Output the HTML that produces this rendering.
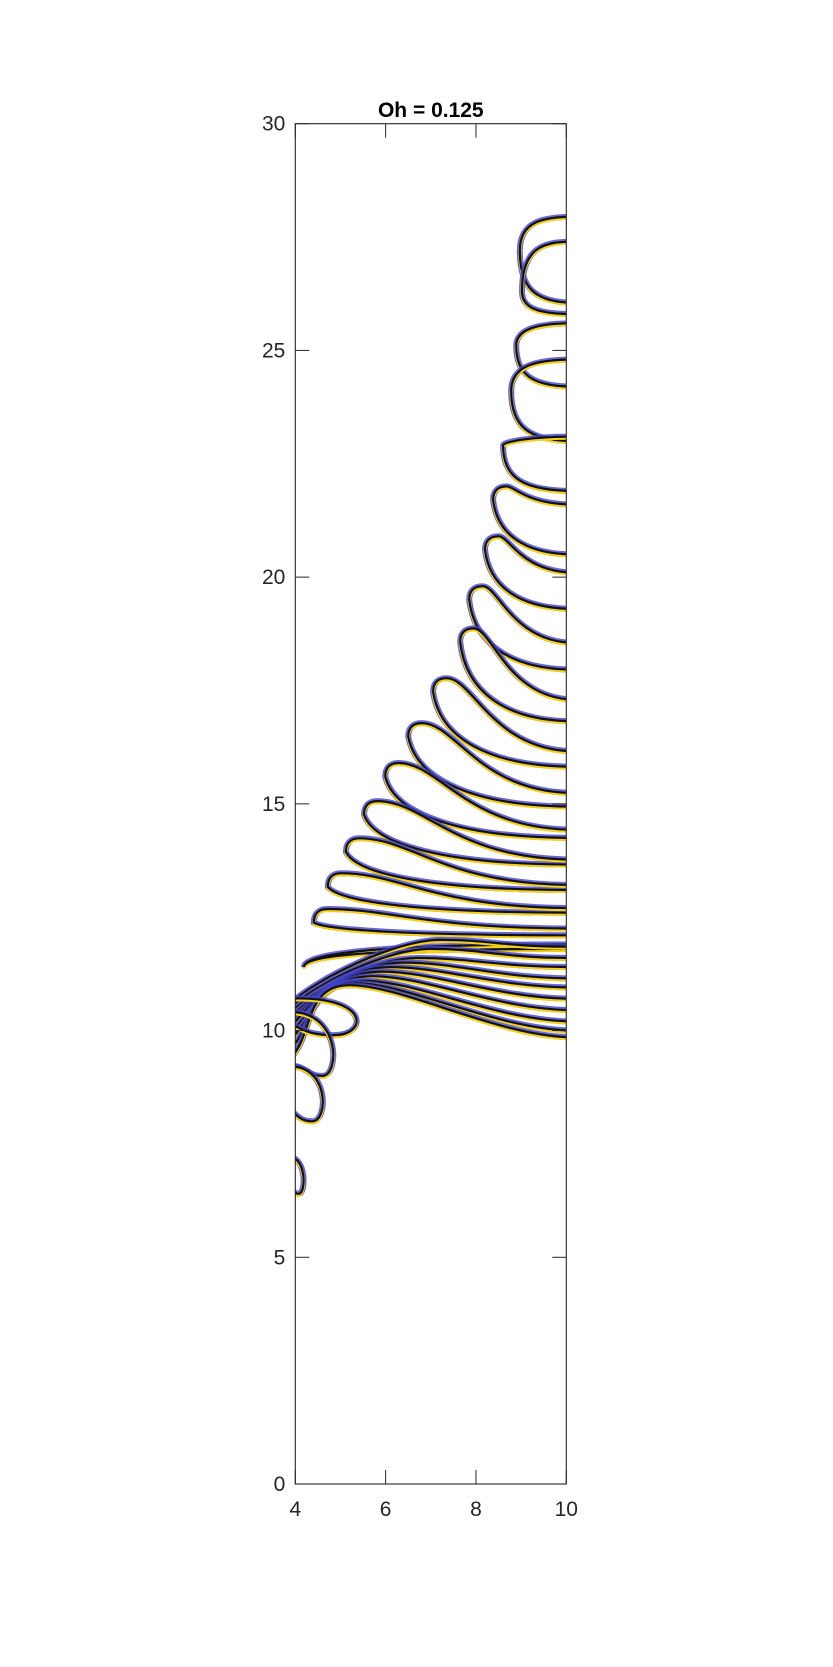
<!DOCTYPE html>
<html><head><meta charset="utf-8">
<style>
html,body{margin:0;padding:0;background:#fff;}
svg{display:block;font-family:"Liberation Sans",Arial,sans-serif;}
</style></head>
<body>
<svg id="chart" width="833" height="1667" viewBox="0 0 833 1667">
<defs><clipPath id="clip"><rect x="295.3" y="123.7" width="271" height="1360.3"/></clipPath></defs>
<g id="plot" clip-path="url(#clip)"></g>
<g id="axes"></g>
</svg>
<script>
// Finger (bag) interfaces: leftmost point, and right-edge ends of upper/lower edges
const bagLx = [8.97, 9.02, 8.89, 8.78, 8.60, 8.38, 8.20, 7.85, 7.65, 7.05, 6.50, 5.99, 5.52, 5.12, 4.72, 4.41, 4.19];
const bagLy = [27.2, 26.3, 25.1, 24.1, 22.9, 21.7, 20.6, 19.5, 18.57, 17.47, 16.48, 15.60, 14.76, 13.94, 13.17, 12.38, 11.40];
const bagYT = [27.95, 27.4, 25.6, 24.8, 23.1, 21.6, 20.1, 18.55, 17.30, 16.16, 15.24, 14.43, 13.77, 13.21, 12.70, 12.25, 11.90];
const bagYB = [26.05, 25.8, 24.2, 23.0, 21.9, 20.5, 19.3, 17.96, 16.82, 15.82, 14.94, 14.25, 13.66, 13.10, 12.60, 12.10, 11.80];
// Wavy sheet lines: left y at x=4, peak x/y, right y at x=10
const waveLeftY = [10.8, 10.7, 10.6, 10.5, 10.4, 10.3, 10.15, 10.0, 9.8, 9.6];
const wavePeakX = [7.2, 7.0, 6.7, 6.4, 6.1, 5.9, 5.7, 5.5, 5.3, 5.2];
const wavePeakY = [12.0, 11.8, 11.6, 11.5, 11.4, 11.3, 11.2, 11.1, 11.05, 11.0];
const waveRightY = [11.85, 11.6, 11.4, 11.15, 10.95, 10.7, 10.45, 10.2, 10.0, 9.85];
// Lower loops near the left wall: leftmost x, lowest y, top y, rightmost x
const loopX = [4.05, 4.2, 4.0, 3.9];
const loopBottom = [9.9, 9.0, 8.0, 6.4];
const loopTop = [10.7, 10.4, 9.2, 7.2];
const loopRight = [5.65, 5.0, 4.75, 4.25];
const xTicks = [4, 6, 8, 10];
const yTicks = [0, 5, 10, 15, 20, 25, 30];

const X0=295.3, X1=566.3, Y0=1484, Y1=123.7;
const sx = v => X0 + (v-4)/6*(X1-X0);
const sy = v => Y0 - v/30*(Y0-Y1);
const NS='http://www.w3.org/2000/svg';
const plot=document.getElementById('plot'), axes=document.getElementById('axes');
function P(x,y){return sx(x).toFixed(1)+','+sy(y).toFixed(1);}

function drawCurve(d,name){
  const g=document.createElementNS(NS,'g');
  
  
  const specs=[['#4444cc',6,0.8,0],['#f5d020',3,1,1.6],['#111',2.2,1,0]];
  specs.forEach(s=>{
    const p=document.createElementNS(NS,'path');
    p.setAttribute('d',d);p.setAttribute('fill','none');
    p.setAttribute('stroke',s[0]);p.setAttribute('stroke-width',s[1]);
    p.setAttribute('stroke-opacity',s[2]);
    if(s[3])p.setAttribute('transform','translate(0,'+s[3]+')');
    g.appendChild(p);
  });
  plot.appendChild(g);
}

for(let i=0;i<bagLx.length;i++){
  const lx=bagLx[i], ly=bagLy[i], yT=bagYT[i], yB=bagYB[i];
  const w=10-lx, r=Math.min(0.3,w*0.3);
  const curl = yT>ly;
  const up = curl ? yT : ly+r;
  let d;
  if(curl){
    d='M'+P(10.2,yT)+' C'+P(lx+0.5*w,yT)+' '+P(lx,yT-0.1)+' '+P(lx,ly)
     +' C'+P(lx,ly-0.7*(ly-yB))+' '+P(lx+0.3*w,yB)+' '+P(10.2,yB);
  } else {
    d='M'+P(10.2,yT)+' C'+P(lx+0.45*w,yT)+' '+P(lx+0.3*w,up)+' '+P(lx+r,up)
     +' C'+P(lx+0.3*r,up)+' '+P(lx,ly+0.6*r)+' '+P(lx,ly)
     +' C'+P(lx+0.05*w,ly-0.6*(ly-yB))+' '+P(lx+0.4*w,yB)+' '+P(10.2,yB);
  }
  drawCurve(d,'interface-finger-'+(i+1));
}
for(let i=0;i<waveLeftY.length;i++){
  const px=wavePeakX[i], py=wavePeakY[i];
  const d='M'+P(3.9,waveLeftY[i]-0.2)+' C'+P(4.4,waveLeftY[i]+0.3)+' '+P(px-1,py)+' '+P(px,py)
   +' C'+P(px+1.2,py)+' '+P(8.5,waveRightY[i])+' '+P(10.2,waveRightY[i]);
  drawCurve(d,'interface-sheet-'+(i+1));
}
for(let i=0;i<loopX.length;i++){
  const x=loopX[i], b=loopBottom[i], t=loopTop[i], rx=loopRight[i];
  const d='M'+P(3.8,t)+' C'+P(rx,t+0.1)+' '+P(rx,b)+' '+P((x+rx)/2,b)
   +' C'+P(x,b)+' '+P(x,b+0.3)+' '+P(3.8,b+0.2);
  drawCurve(d,'interface-loop-'+(i+1));
}

function el(tag,attrs,text){
  const e=document.createElementNS(NS,tag);
  for(const k in attrs)e.setAttribute(k,attrs[k]);
  if(text!==undefined)e.textContent=text;
  axes.appendChild(e);return e;
}
const box=el('rect',{x:X0,y:Y1,width:X1-X0,height:Y0-Y1,fill:'none',stroke:'#262626','stroke-width':1.1});


xTicks.forEach(v=>{
  const x=sx(v);
  el('line',{x1:x,x2:x,y1:Y0,y2:Y0-14,stroke:'#262626','stroke-width':1});
  el('line',{x1:x,x2:x,y1:Y1,y2:Y1+14,stroke:'#262626','stroke-width':1});
  const t=el('text',{x:x,y:Y0+32,'text-anchor':'middle','font-size':21,fill:'#262626'},v);
  
  
});
yTicks.forEach(v=>{
  const y=sy(v);
  el('line',{x1:X0,x2:X0+14,y1:y,y2:y,stroke:'#262626','stroke-width':1});
  el('line',{x1:X1,x2:X1-14,y1:y,y2:y,stroke:'#262626','stroke-width':1});
  const t=el('text',{x:X0-10,y:y+7,'text-anchor':'end','font-size':21,fill:'#262626'},v);
  
  
});
const title=el('text',{x:(X0+X1)/2,y:117,'text-anchor':'middle','font-size':21,'font-weight':'bold',fill:'#000'},'Oh = 0.125');


</script>
</body></html>
